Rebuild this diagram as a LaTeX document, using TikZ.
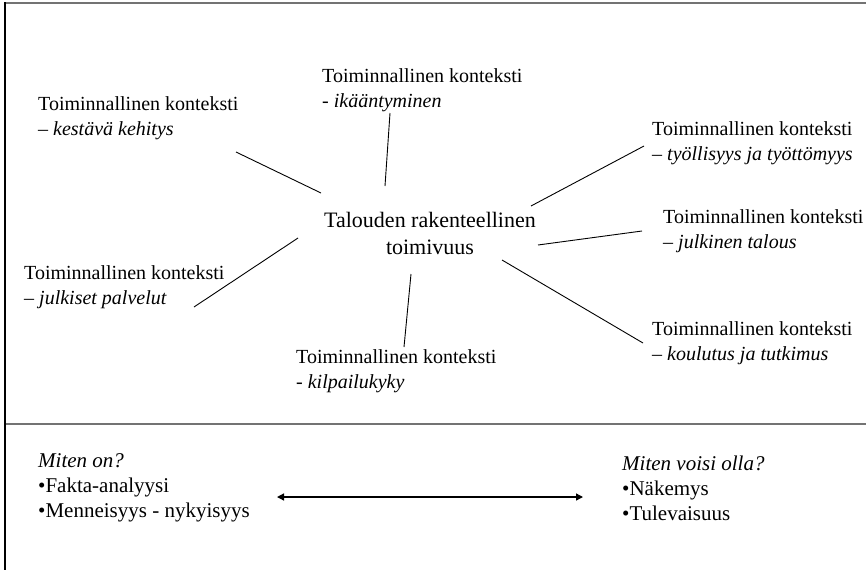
\documentclass[tikz,border=0pt]{standalone}
\usepackage{fontspec}
\setmainfont{Liberation Serif}
\usetikzlibrary{arrows.meta}
\begin{document}
\begin{tikzpicture}[x=1pt,y=-1pt,
  ctx/.style={anchor=west,inner sep=0pt,align=left,font=\fontsize{20}{24.5}\selectfont},
  hub/.style={inner sep=0pt,align=center,font=\fontsize{22}{27}\selectfont},
  side/.style={anchor=west,inner sep=0pt,align=left,font=\fontsize{21}{25}\selectfont},
  spoke/.style={line width=0.9pt},
  rule/.style={line width=1.6pt,draw=black!55}]
\useasboundingbox (0,0) rectangle (866,570);
% frame
\draw[rule] (4,3) -- (866,3);
\draw[rule] (5,424) -- (866,424);
\draw[line width=1.6pt] (5,2) -- (5,570);
% hub and context labels
\node[hub] (hub) at (430,233) {Talouden rakenteellinen\\toimivuus};
\node[ctx] (age) at (322,90) {Toiminnallinen konteksti\\- \textit{ikääntyminen}};
\node[ctx] (sust) at (38,118) {Toiminnallinen konteksti\\– \textit{kestävä kehitys}};
\node[ctx] (emp) at (652,143) {Toiminnallinen konteksti\\– \textit{työllisyys ja työttömyys}};
\node[ctx] (pub) at (663,231) {Toiminnallinen konteksti\\– \textit{julkinen talous}};
\node[ctx] (serv) at (24,287) {Toiminnallinen konteksti\\– \textit{julkiset palvelut}};
\node[ctx] (edu) at (652,343) {Toiminnallinen konteksti\\– \textit{koulutus ja tutkimus}};
\node[ctx] (comp) at (296,371) {Toiminnallinen konteksti\\- \textit{kilpailukyky}};
% spokes
\coordinate (h1) at (321,193); \coordinate (s1) at (236,152);
\coordinate (h2) at (385,186); \coordinate (s2) at (390,113);
\coordinate (h3) at (531,206); \coordinate (s3) at (644,146);
\coordinate (h4) at (538,245); \coordinate (s4) at (642,231);
\coordinate (h5) at (502,260); \coordinate (s5) at (643,343);
\coordinate (h6) at (411,274); \coordinate (s6) at (404,347);
\coordinate (h7) at (298,238); \coordinate (s7) at (194,307);
\draw[spoke] (h1) -- (s1);
\draw[spoke] (h2) -- (s2);
\draw[spoke] (h3) -- (s3);
\draw[spoke] (h4) -- (s4);
\draw[spoke] (h5) -- (s5);
\draw[spoke] (h6) -- (s6);
\draw[spoke] (h7) -- (s7);
% present vs. future
\node[side] (now) at (38,488) {\textit{Miten on?}\\•Fakta-analyysi\\•Menneisyys - nykyisyys};
\node[side] (future) at (622,488) {\textit{Miten voisi olla?}\\•Näkemys\\•Tulevaisuus};
\coordinate (a1) at (277,497);
\coordinate (a2) at (583,497);
\draw[line width=1.3pt,{Triangle[length=7pt,width=7pt]}-{Triangle[length=7pt,width=7pt]}] (a1) -- (a2);
\end{tikzpicture}
\end{document}
